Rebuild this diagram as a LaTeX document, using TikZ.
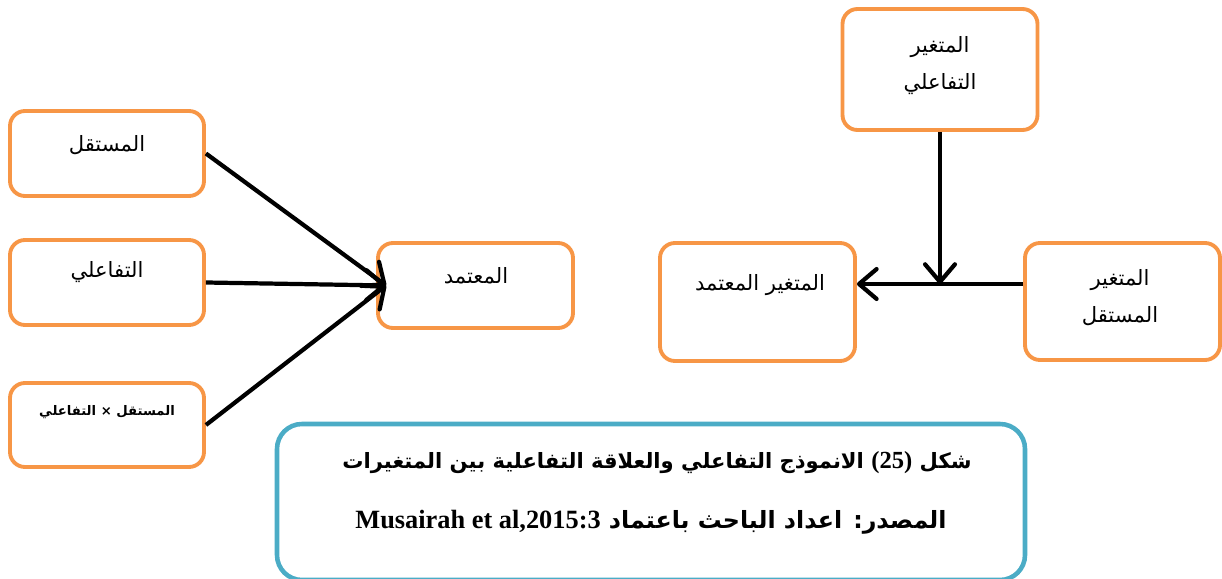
\documentclass[tikz,border=0pt]{standalone}
\usepackage{fontspec}
\usetikzlibrary{arrows.meta}
\setmainfont{Liberation Serif}
\newfontfamily\arabicfont[Script=Arabic]{DejaVu Sans}
\TeXXeTstate=1
\definecolor{boxorange}{HTML}{F79646}
\definecolor{capblue}{HTML}{4BACC6}

\begin{document}
\begin{tikzpicture}[
  box/.style={draw=boxorange, line width=2.2pt, rounded corners=0.3cm, fill=white, minimum width=3.88cm, minimum height=1.7cm},
  lab/.style={font=\arabicfont\fontsize{12}{21}\selectfont, align=center},
  arr/.style={line width=2.4pt, -{Straight Barb[length=10pt,width=17pt,round]}}
]
\useasboundingbox (0,0) rectangle (24.44,-11.58);
\node[box] (indep) at (2.14,-3.07) {};
\node[box] (inter) at (2.14,-5.65) {};
\node[box, minimum height=1.68cm] (prod) at (2.14,-8.50) {};
\node[box, minimum width=3.9cm] (dep) at (9.51,-5.71) {};
\node[lab] (indeptxt) at (2.14,-2.9) {\beginR المستقل\endR};
\node[lab] (intertxt) at (2.14,-5.44) {\beginR التفاعلي\endR};
\node[lab, font=\arabicfont\bfseries\fontsize{7.5}{9}\selectfont] (prodtxt) at (2.14,-8.24) {\beginR المستقل × التفاعلي\endR};
\node[lab] (deptxt) at (9.52,-5.52) {\beginR المعتمد\endR};
\coordinate (hit) at ([xshift=0.2cm]dep.west);
\draw[arr] (indep.east) -- (hit);
\draw[arr] (inter.east) -- (hit);
\draw[arr] (prod.east) -- (hit);

\node[box, minimum width=3.9cm, minimum height=2.42cm] (rmod) at (18.8,-1.39) {};
\node[box, minimum width=3.9cm, minimum height=2.36cm] (rdep) at (15.15,-6.04) {};
\node[box, minimum width=3.9cm, minimum height=2.34cm] (rind) at (22.45,-6.03) {};
\node[lab] (rmodtxt) at (18.8,-1.32) {\beginR المتغير\endR\\ \beginR التفاعلي\endR};
\node[lab] (rdeptxt) at (15.2,-5.7) {\beginR المتغير المعتمد\endR};
\node[lab] (rindtxt) at (22.4,-5.96) {\beginR المتغير\endR\\ \beginR المستقل\endR};
\coordinate (src) at ([yshift=0.35cm]rind.west);
\coordinate (meet) at (rmod.south |- src);
\draw[arr] (src) -- (rdep.east |- src);
\draw[arr] (rmod.south) -- (meet);

\node[draw=capblue, line width=2.6pt, rounded corners=0.5cm, minimum width=14.96cm, minimum height=3.12cm] (cap) at (13.02,-10.04) {};
\node[lab, font=\arabicfont\bfseries\fontsize{12}{14}\selectfont] (capone) at (13.14,-9.26) {\beginR شكل \beginL{\rmfamily\bfseries\fontsize{14}{16}\selectfont(25)}\endL{} الانموذج التفاعلي والعلاقة التفاعلية بين المتغيرات\endR};
\node[lab, font=\arabicfont\bfseries\fontsize{13.5}{16}\selectfont] (captwo) at (13.02,-10.44) {\beginR المصدر: اعداد الباحث باعتماد \beginL{\rmfamily\bfseries\fontsize{15}{17}\selectfont Musairah et al,2015:3}\endL\endR};
\end{tikzpicture}
\end{document}
